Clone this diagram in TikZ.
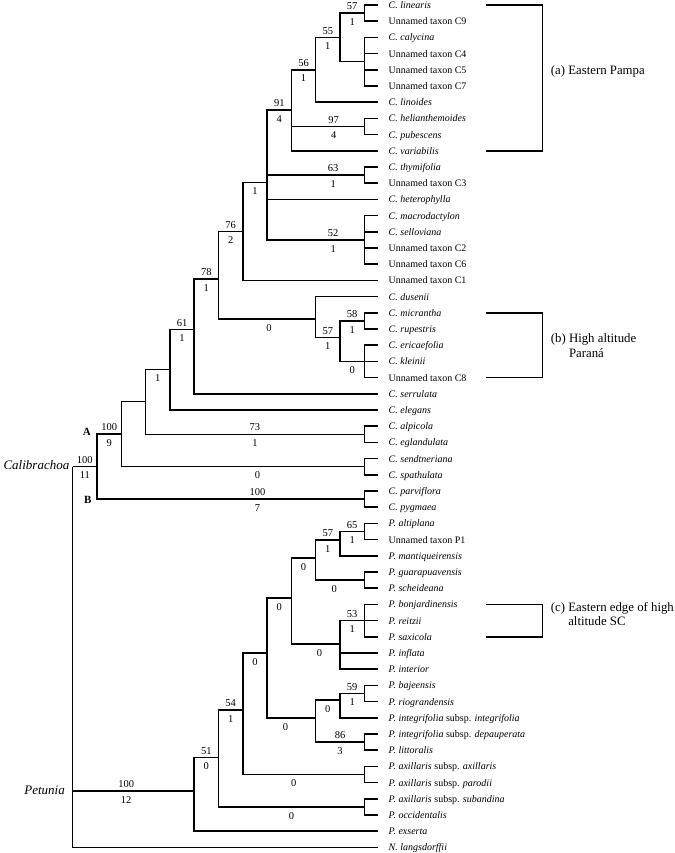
\documentclass[tikz,border=0pt]{standalone}
\usepackage{fontspec}
\setmainfont{Liberation Serif}
\usepackage{tikz}
\usetikzlibrary{positioning}

\begin{document}
\begin{tikzpicture}[x=1pt, y=-1pt,
  br/.style={line width=1.5pt},
  taxon/.style={anchor=west, inner xsep=10.5pt, inner ysep=0pt, text height=7pt,
                text depth=0pt, font=\fontsize{10}{12}\selectfont},
  sup/.style={above=2.5pt, inner sep=0pt, font=\fontsize{10.5}{12}\selectfont},
  dec/.style={below=4.5pt, inner sep=0pt, font=\fontsize{10.5}{12}\selectfont},
  genus/.style={anchor=east, inner sep=0pt, font=\fontsize{13}{15}\selectfont\itshape},
  clade/.style={anchor=east, inner sep=0pt, font=\fontsize{11}{13}\selectfont\bfseries},
  region/.style={anchor=west, inner sep=0pt, align=left, font=\fontsize{12.8}{14.7}\selectfont}
]
\useasboundingbox (0,0) rectangle (674,853);

% terminal taxa
\node[taxon] (linearis)     at (378,5.0)   {\textit{C. linearis}};
\node[taxon] (tC9)          at (378,21.2)  {Unnamed taxon C9};
\node[taxon] (calycina)     at (378,37.4)  {\textit{C. calycina}};
\node[taxon] (tC4)          at (378,53.6)  {Unnamed taxon C4};
\node[taxon] (tC5)          at (378,69.8)  {Unnamed taxon C5};
\node[taxon] (tC7)          at (378,86.0)  {Unnamed taxon C7};
\node[taxon] (linoides)     at (378,102.2) {\textit{C. linoides}};
\node[taxon] (helianth)     at (378,118.4) {\textit{C. helianthemoides}};
\node[taxon] (pubescens)    at (378,134.6) {\textit{C. pubescens}};
\node[taxon] (variabilis)   at (378,150.8) {\textit{C. variabilis}};
\node[taxon] (thymifolia)   at (378,167.0) {\textit{C. thymifolia}};
\node[taxon] (tC3)          at (378,183.2) {Unnamed taxon C3};
\node[taxon] (heterophylla) at (378,199.4) {\textit{C. heterophylla}};
\node[taxon] (macrodac)     at (378,215.6) {\textit{C. macrodactylon}};
\node[taxon] (selloviana)   at (378,231.8) {\textit{C. selloviana}};
\node[taxon] (tC2)          at (378,248.0) {Unnamed taxon C2};
\node[taxon] (tC6)          at (378,264.2) {Unnamed taxon C6};
\node[taxon] (tC1)          at (378,280.4) {Unnamed taxon C1};
\node[taxon] (dusenii)      at (378,296.6) {\textit{C. dusenii}};
\node[taxon] (micrantha)    at (378,312.8) {\textit{C. micrantha}};
\node[taxon] (rupestris)    at (378,329.0) {\textit{C. rupestris}};
\node[taxon] (ericaefolia)  at (378,345.2) {\textit{C. ericaefolia}};
\node[taxon] (kleinii)      at (378,361.4) {\textit{C. kleinii}};
\node[taxon] (tC8)          at (378,377.6) {Unnamed taxon C8};
\node[taxon] (serrulata)    at (378,393.8) {\textit{C. serrulata}};
\node[taxon] (elegans)      at (378,410.0) {\textit{C. elegans}};
\node[taxon] (alpicola)     at (378,426.2) {\textit{C. alpicola}};
\node[taxon] (eglandulata)  at (378,442.4) {\textit{C. eglandulata}};
\node[taxon] (sendtneriana) at (378,458.6) {\textit{C. sendtneriana}};
\node[taxon] (spathulata)   at (378,474.8) {\textit{C. spathulata}};
\node[taxon] (parviflora)   at (378,491.0) {\textit{C. parviflora}};
\node[taxon] (pygmaea)      at (378,507.2) {\textit{C. pygmaea}};
\node[taxon] (altiplana)    at (378,523.4) {\textit{P. altiplana}};
\node[taxon] (tP1)          at (378,539.6) {Unnamed taxon P1};
\node[taxon] (mantiq)       at (378,555.8) {\textit{P. mantiqueirensis}};
\node[taxon] (guarap)       at (378,572.0) {\textit{P. guarapuavensis}};
\node[taxon] (scheideana)   at (378,588.2) {\textit{P. scheideana}};
\node[taxon] (bonjard)      at (378,604.4) {\textit{P. bonjardinensis}};
\node[taxon] (reitzii)      at (378,620.6) {\textit{P. reitzii}};
\node[taxon] (saxicola)     at (378,636.8) {\textit{P. saxicola}};
\node[taxon] (inflata)      at (378,653.0) {\textit{P. inflata}};
\node[taxon] (interior)     at (378,669.2) {\textit{P. interior}};
\node[taxon] (bajeensis)    at (378,685.4) {\textit{P. bajeensis}};
\node[taxon] (riogrand)     at (378,701.6) {\textit{P. riograndensis}};
\node[taxon] (integ)        at (378,717.8) {\textit{P. integrifolia} subsp. \textit{integrifolia}};
\node[taxon] (depaup)       at (378,734.0) {\textit{P. integrifolia} subsp. \textit{depauperata}};
\node[taxon] (littoralis)   at (378,750.2) {\textit{P. littoralis}};
\node[taxon] (axax)         at (378,766.4) {\textit{P. axillaris} subsp. \textit{axillaris}};
\node[taxon] (axpar)        at (378,782.6) {\textit{P. axillaris} subsp. \textit{parodii}};
\node[taxon] (axsub)        at (378,798.8) {\textit{P. axillaris} subsp. \textit{subandina}};
\node[taxon] (occident)     at (378,815.0) {\textit{P. occidentalis}};
\node[taxon] (exserta)      at (378,831.2) {\textit{P. exserta}};
\node[taxon] (langsd)       at (378,847.4) {\textit{N. langsdorffii}};

% internal nodes
\coordinate (root) at (72.7,466.5);
\coordinate (ncal) at (97,466.5);
\coordinate (nA)   at (121.3,434);
\coordinate (nB)   at (364.3,499.1);
\coordinate (c0s)  at (364.3,466.7);
\coordinate (c1f)  at (145.6,401.7);
\coordinate (c73)  at (364.3,434.3);
\coordinate (c1e)  at (169.9,369.5);
\coordinate (c61)  at (194.2,329.5);
\coordinate (c78)  at (218.5,279);
\coordinate (c76)  at (242.8,231.5);
\coordinate (c0d)  at (315.7,319);
\coordinate (c57p) at (340,337.5);
\coordinate (c58)  at (364.3,320.9);
\coordinate (c0k)  at (364.3,361.4);
\coordinate (cX)   at (267.1,182.5);
\coordinate (c91)  at (291.4,110);
\coordinate (c63)  at (364.3,175.1);
\coordinate (c52)  at (364.3,239.9);
\coordinate (c56)  at (315.7,69.8);
\coordinate (c97)  at (364.3,126.5);
\coordinate (c55)  at (340,37.4);
\coordinate (c57)  at (364.3,13.1);
\coordinate (cpol) at (364.3,61.7);
\coordinate (npet) at (194.2,791);
\coordinate (p51)  at (218.5,757.7);
\coordinate (psub) at (364.3,806.9);
\coordinate (p54)  at (242.8,710);
\coordinate (pax)  at (364.3,774.5);
\coordinate (p0e)  at (267.1,653);
\coordinate (p0b)  at (291.4,598);
\coordinate (p0a)  at (315.7,558);
\coordinate (p57)  at (340,540);
\coordinate (p65)  at (364.3,531.5);
\coordinate (p0g)  at (364.3,580.1);
\coordinate (p0i)  at (340,644);
\coordinate (p53)  at (364.3,620.6);
\coordinate (p0d)  at (315.7,718);
\coordinate (p0c)  at (340,700);
\coordinate (p59)  at (364.3,693.5);
\coordinate (p86)  at (364.3,742.1);

% root and Calibrachoa
\draw[br] (root) |- node[sup,pos=.75] (bs-cal) {100} node[dec,pos=.75] (bd-cal) {11} (ncal);
\draw[br] (root) |- node[sup,pos=.72] (bs-pet) {100} node[dec,pos=.72] (bd-pet) {12} (npet);
\draw[br] (root) |- (langsd.west);
\draw[br] (ncal) |- node[sup,pos=.75] (bs-A) {100} node[dec,pos=.75] (bd-A) {9} (nA);
\draw[br] (ncal) |- node[sup,pos=.80] (bs-B) {100} node[dec,pos=.80] (bd-B) {7} (nB);
\draw[br] (nB) |- (parviflora.west);
\draw[br] (nB) |- (pygmaea.west);
\draw[br] (nA) |- (c1f);
\draw[br] (nA) |- node[dec,pos=.78] (bd-c0s) {0} (c0s);
\draw[br] (c0s) |- (sendtneriana.west);
\draw[br] (c0s) |- (spathulata.west);
\draw[br] (c1f) |- node[dec,pos=.75] (bd-c1e) {1} (c1e);
\draw[br] (c1f) |- node[sup,pos=.75] (bs-c73) {73} node[dec,pos=.75] (bd-c73) {1} (c73);
\draw[br] (c73) |- (alpicola.west);
\draw[br] (c73) |- (eglandulata.west);
\draw[br] (c1e) |- node[sup,pos=.75] (bs-c61) {61} node[dec,pos=.75] (bd-c61) {1} (c61);
\draw[br] (c1e) |- (elegans.west);
\draw[br] (c61) |- node[sup,pos=.75] (bs-c78) {78} node[dec,pos=.75] (bd-c78) {1} (c78);
\draw[br] (c61) |- (serrulata.west);
\draw[br] (c78) |- node[sup,pos=.75] (bs-c76) {76} node[dec,pos=.75] (bd-c76) {2} (c76);
\draw[br] (c78) |- node[dec,pos=.76] (bd-c0d) {0} (c0d);
\draw[br] (c0d) |- (dusenii.west);
\draw[br] (c0d) |- node[sup,pos=.75] (bs-c57p) {57} node[dec,pos=.75] (bd-c57p) {1} (c57p);
\draw[br] (c57p) |- node[sup,pos=.75] (bs-c58) {58} node[dec,pos=.75] (bd-c58) {1} (c58);
\draw[br] (c57p) |- node[dec,pos=.75] (bd-c0k) {0} (c0k);
\draw[br] (c58) |- (micrantha.west);
\draw[br] (c58) |- (rupestris.west);
\draw[br] (c0k) |- (ericaefolia.west);
\draw[br] (c0k) |- (kleinii.west);
\draw[br] (c0k) |- (tC8.west);
\draw[br] (c76) |- node[dec,pos=.75] (bd-cX) {1} (cX);
\draw[br] (c76) |- (tC1.west);
\draw[br] (cX) |- node[sup,pos=.75] (bs-c91) {91} node[dec,pos=.75] (bd-c91) {4} (c91);
\draw[br] (cX) |- node[sup,pos=.84] (bs-c63) {63} node[dec,pos=.84] (bd-c63) {1} (c63);
\draw[br] (cX) |- (heterophylla.west);
\draw[br] (cX) |- node[sup,pos=.84] (bs-c52) {52} node[dec,pos=.84] (bd-c52) {1} (c52);
\draw[br] (c63) |- (thymifolia.west);
\draw[br] (c63) |- (tC3.west);
\draw[br] (c52) |- (macrodac.west);
\draw[br] (c52) |- (selloviana.west);
\draw[br] (c52) |- (tC2.west);
\draw[br] (c52) |- (tC6.west);
\draw[br] (c91) |- node[sup,pos=.75] (bs-c56) {56} node[dec,pos=.75] (bd-c56) {1} (c56);
\draw[br] (c91) |- node[sup,pos=.79] (bs-c97) {97} node[dec,pos=.79] (bd-c97) {4} (c97);
\draw[br] (c91) |- (variabilis.west);
\draw[br] (c97) |- (helianth.west);
\draw[br] (c97) |- (pubescens.west);
\draw[br] (c56) |- node[sup,pos=.75] (bs-c55) {55} node[dec,pos=.75] (bd-c55) {1} (c55);
\draw[br] (c56) |- (linoides.west);
\draw[br] (c55) |- node[sup,pos=.75] (bs-c57) {57} node[dec,pos=.75] (bd-c57) {1} (c57);
\draw[br] (c55) |- (cpol);
\draw[br] (c57) |- (linearis.west);
\draw[br] (c57) |- (tC9.west);
\draw[br] (cpol) |- (calycina.west);
\draw[br] (cpol) |- (tC4.west);
\draw[br] (cpol) |- (tC5.west);
\draw[br] (cpol) |- (tC7.west);

% Petunia
\draw[br] (npet) |- node[sup,pos=.75] (bs-p51) {51} node[dec,pos=.75] (bd-p51) {0} (p51);
\draw[br] (npet) |- (exserta.west);
\draw[br] (p51) |- node[sup,pos=.75] (bs-p54) {54} node[dec,pos=.75] (bd-p54) {1} (p54);
\draw[br] (p51) |- node[dec,pos=.75] (bd-psub) {0} (psub);
\draw[br] (psub) |- (axsub.west);
\draw[br] (psub) |- (occident.west);
\draw[br] (p54) |- node[dec,pos=.75] (bd-p0e) {0} (p0e);
\draw[br] (p54) |- node[dec,pos=.71] (bd-pax) {0} (pax);
\draw[br] (pax) |- (axax.west);
\draw[br] (pax) |- (axpar.west);
\draw[br] (p0e) |- node[dec,pos=.75] (bd-p0b) {0} (p0b);
\draw[br] (p0e) |- node[dec,pos=.69] (bd-p0d) {0} (p0d);
\draw[br] (p0b) |- node[dec,pos=.75] (bd-p0a) {0} (p0a);
\draw[br] (p0b) |- node[dec,pos=.79] (bd-p0i) {0} (p0i);
\draw[br] (p0a) |- node[sup,pos=.75] (bs-p57) {57} node[dec,pos=.75] (bd-p57) {1} (p57);
\draw[br] (p0a) |- node[dec,pos=.69] (bd-p0g) {0} (p0g);
\draw[br] (p57) |- node[sup,pos=.75] (bs-p65) {65} node[dec,pos=.75] (bd-p65) {1} (p65);
\draw[br] (p57) |- (mantiq.west);
\draw[br] (p65) |- (altiplana.west);
\draw[br] (p65) |- (tP1.west);
\draw[br] (p0g) |- (guarap.west);
\draw[br] (p0g) |- (scheideana.west);
\draw[br] (p0i) |- node[sup,pos=.75] (bs-p53) {53} node[dec,pos=.75] (bd-p53) {1} (p53);
\draw[br] (p0i) |- (inflata.west);
\draw[br] (p0i) |- (interior.west);
\draw[br] (p53) |- (bonjard.west);
\draw[br] (p53) |- (reitzii.west);
\draw[br] (p53) |- (saxicola.west);
\draw[br] (p0d) |- node[dec,pos=.75] (bd-p0c) {0} (p0c);
\draw[br] (p0d) |- node[sup,pos=.75] (bs-p86) {86} node[dec,pos=.75] (bd-p86) {3} (p86);
\draw[br] (p0c) |- node[sup,pos=.75] (bs-p59) {59} node[dec,pos=.75] (bd-p59) {1} (p59);
\draw[br] (p0c) |- (integ.west);
\draw[br] (p59) |- (bajeensis.west);
\draw[br] (p59) |- (riogrand.west);
\draw[br] (p86) |- (depaup.west);
\draw[br] (p86) |- (littoralis.west);

% group and clade names
\node[genus] (calibrachoa) at (69.5,465) {Calibrachoa};
\node[genus] (petunia) at (65,790) {Petunia};
\node[clade] (cladeA) at (91,431.5) {A};
\node[clade] (cladeB) at (91.7,500) {B};

% regions
\coordinate (pampaT) at (486,5);
\coordinate (pampaB) at (486,150.8);
\coordinate (paranaT) at (486,312.8);
\coordinate (paranaB) at (486,377.6);
\coordinate (edgeT) at (486,604.4);
\coordinate (edgeB) at (486,636.8);
\draw[br] (pampaT) -- ++(56.7,0) |- (pampaB);
\draw[br] (paranaT) -- ++(56.7,0) |- (paranaB);
\draw[br] (edgeT) -- ++(56.7,0) |- (edgeB);
\node[region] (pampa) at (550.7,71) {(a) Eastern Pampa};
\node[region] (parana) at (550.7,345.5) {(b) High altitude\\\hphantom{(b) }Paraná};
\node[region] (edge) at (550.7,614) {(c) Eastern edge of high\\\hphantom{(c) }altitude SC};
\end{tikzpicture}
\end{document}
